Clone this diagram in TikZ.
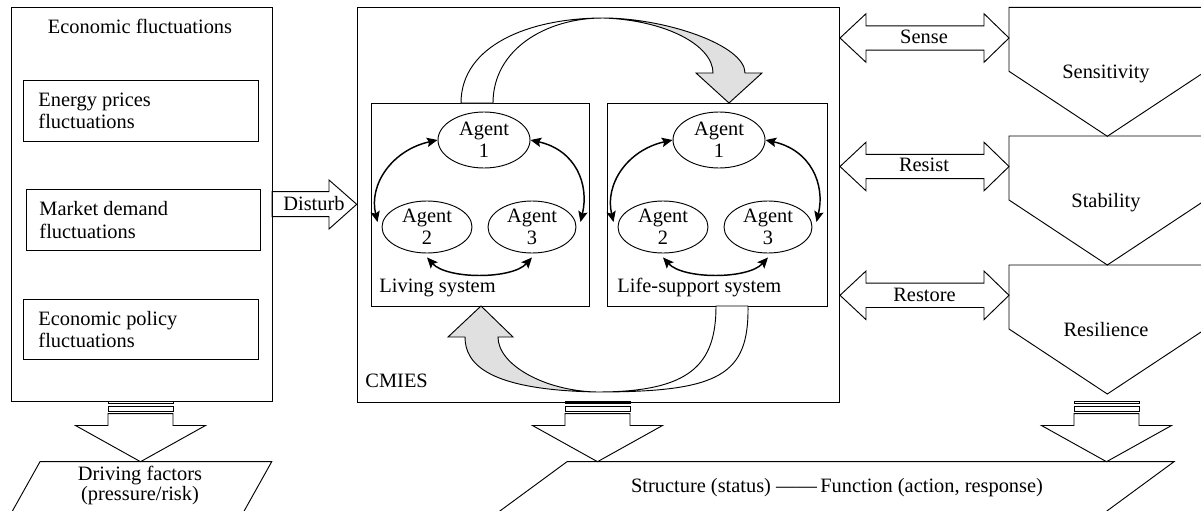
\documentclass[tikz,border=0pt]{standalone}
\usepackage{fontspec}
\setmainfont{Liberation Serif}
\usetikzlibrary{arrows.meta,shapes.geometric}
\definecolor{cmgray}{HTML}{E0E0E0}
\pgfdeclarehorizontalshading{topfade}{100bp}{color(0bp)=(white); color(46bp)=(white); color(53bp)=(cmgray); color(100bp)=(cmgray)}
\pgfdeclarehorizontalshading{botfade}{100bp}{color(0bp)=(cmgray); color(45bp)=(cmgray); color(52bp)=(white); color(100bp)=(white)}
\newcommand\mystripedarrow[1]{%
  \draw (#1-32.5,401) rectangle (#1+32.5,403.3);
  \draw (#1-32.5,406.5) rectangle (#1+32.5,411.5);
  \draw (#1-32.5,413.7) -- (#1+32.5,413.7) -- (#1+32.5,425.5) -- (#1+65,425.5) -- (#1,461.7) -- (#1-65,425.5) -- (#1-32.5,425.5) -- cycle;}
\newcommand\mydblarrow[1]{%
  \draw (840,#1) -- (866,#1-24.3) -- (866,#1-12.2) -- (984,#1-12.2) -- (984,#1-24.3) -- (1009,#1) -- (984,#1+24.3) -- (984,#1+12.2) -- (866,#1+12.2) -- (866,#1+24.3) -- cycle;}
\newcommand\mypenta[1]{%
  \draw (1009,#1) -- (1205.6,#1) -- (1205.6,#1+64) -- (1107.3,#1+129) -- (1009,#1+64) -- cycle;}
\begin{document}
\begin{tikzpicture}[x=0.75pt,y=-0.75pt,line width=0.7pt,
  every node/.style={font=\fontsize{15.3}{16.7}\selectfont, inner sep=0pt},
  box/.style={draw, anchor=north west},
  agent/.style={draw, ellipse, align=center, minimum width=67.5pt, minimum height=39pt},
  agarr/.style={line width=1.1pt, {Stealth[length=8pt,width=7pt,inset=1.5pt]}-{Stealth[length=8pt,width=7pt,inset=1.5pt]}},
  lbl/.style={anchor=base},
  ltxt/.style={anchor=west, align=left},
]
\useasboundingbox (0,0) rectangle (1201,510);

% left column
\node[box, minimum width=195.75pt, minimum height=295.5pt] (econ) at (11,7) {};
\node[lbl] (econt) at (140,33.3) {Economic fluctuations};
\node[box, minimum width=176.25pt, minimum height=45.75pt] (energy) at (23,80) {};
\node[ltxt] (energyt) at (38,111) {Energy prices\\fluctuations};
\node[box, minimum width=175.5pt, minimum height=45.75pt] (market) at (26,189) {};
\node[ltxt] (markett) at (39,220) {Market demand\\fluctuations};
\node[box, minimum width=176.25pt, minimum height=45pt] (policy) at (23,299) {};
\node[ltxt] (policyt) at (38,329.5) {Economic policy\\fluctuations};

% disturb arrow
\draw (272,191.7) -- (329,191.7) -- (329,180) -- (356.7,204.3) -- (329,229) -- (329,216.7) -- (272,216.7) -- cycle;
\node[lbl] (disturb) at (314,210) {Disturb};

% CMIES
\node[box, minimum width=361.5pt, minimum height=296.25pt] (cmies) at (357,7) {};
\node[lbl, anchor=base west] (cmiest) at (365,387.3) {CMIES};
\node[box, minimum width=163.5pt, minimum height=152.25pt] (living) at (371,103) {};
\node[box, minimum width=165pt, minimum height=152.25pt] (life) at (607,103) {};
\node[lbl, anchor=base west] (livingt) at (379,292.7) {Living system};
\node[lbl, anchor=base west] (lifet) at (617,292.7) {Life-support system};

% curved block arrows
\shadedraw[shading=topfade] (461,103) .. controls (461,45) and (530,18) .. (603,18)
  .. controls (665,18) and (745,45) .. (745,73) -- (762,73) -- (729,103) -- (696,73) -- (713,73)
  .. controls (713,45) and (665,20) .. (603,18) .. controls (545,18) and (493,50) .. (493,103) -- cycle;
\shadedraw[shading=botfade] (748,306) .. controls (749,375) and (720,392) .. (597,392)
  .. controls (490,390) and (465,365) .. (465,337) -- (448,337) -- (481,306) -- (513,337) -- (498,337)
  .. controls (498,365) and (545,391) .. (597,392) .. controls (690,392) and (716,365) .. (716,306) -- cycle;

% agents - living system
\node[agent, minimum width=69pt, minimum height=42pt] (la1) at (484,140) {Agent\\1};
\node[agent] (la2) at (427,227) {Agent\\2};
\node[agent, minimum width=66pt] (la3) at (532,227) {Agent\\3};
\draw[agarr] (la1.west) .. controls +(-45,10) and +(-9,-38) .. ([shift={(-4,-5)}]la2.west);
\draw[agarr] (la1.east) .. controls +(45,10) and +(9,-38) .. ([shift={(4,-5)}]la3.east);
\draw[agarr] ([yshift=-3pt]la2.south) .. controls +(20,22) and +(-20,22) .. ([yshift=-3pt]la3.south);

% agents - life-support system
\node[agent, minimum width=69pt, minimum height=42pt] (ra1) at (719,140) {Agent\\1};
\node[agent] (ra2) at (663,227) {Agent\\2};
\node[agent, minimum width=66pt] (ra3) at (768,227) {Agent\\3};
\draw[agarr] (ra1.west) .. controls +(-45,10) and +(-9,-38) .. ([shift={(-4,-5)}]ra2.west);
\draw[agarr] (ra1.east) .. controls +(45,10) and +(9,-38) .. ([shift={(4,-5)}]ra3.east);
\draw[agarr] ([yshift=-3pt]ra2.south) .. controls +(20,22) and +(-20,22) .. ([yshift=-3pt]ra3.south);

% right column
\mydblarrow{38}
\mydblarrow{166.5}
\mydblarrow{295.3}
\node[lbl] (sense) at (924,43.3) {Sense};
\node[lbl] (resist) at (924,171.7) {Resist};
\node[lbl] (restore) at (924.5,301) {Restore};
\mypenta{7.3}
\mypenta{136}
\mypenta{265}
\node[lbl] (sens) at (1106,78.3) {Sensitivity};
\node[lbl] (stab) at (1106,207) {Stability};
\node[lbl] (resil) at (1106,336) {Resilience};

% bottom arrows
\mystripedarrow{140.5}
\mystripedarrow{597.5}
\mystripedarrow{1106.5}

% bottom parallelograms
\draw (40,461.7) -- (271.7,461.7) -- (233.5,530) -- (1.8,530) -- cycle;
\node[align=center, font=\fontsize{15.3}{15.5}\selectfont] (driving) at (140,485.6) {Driving factors\\(pressure/risk)};
\draw (567,461.7) -- (1174,461.7) -- (1081,530) -- (474,530) -- cycle;
\node[lbl] (struct) at (837,492.7) {Structure (status) ——\,Function (action, response)};
\end{tikzpicture}
\end{document}
